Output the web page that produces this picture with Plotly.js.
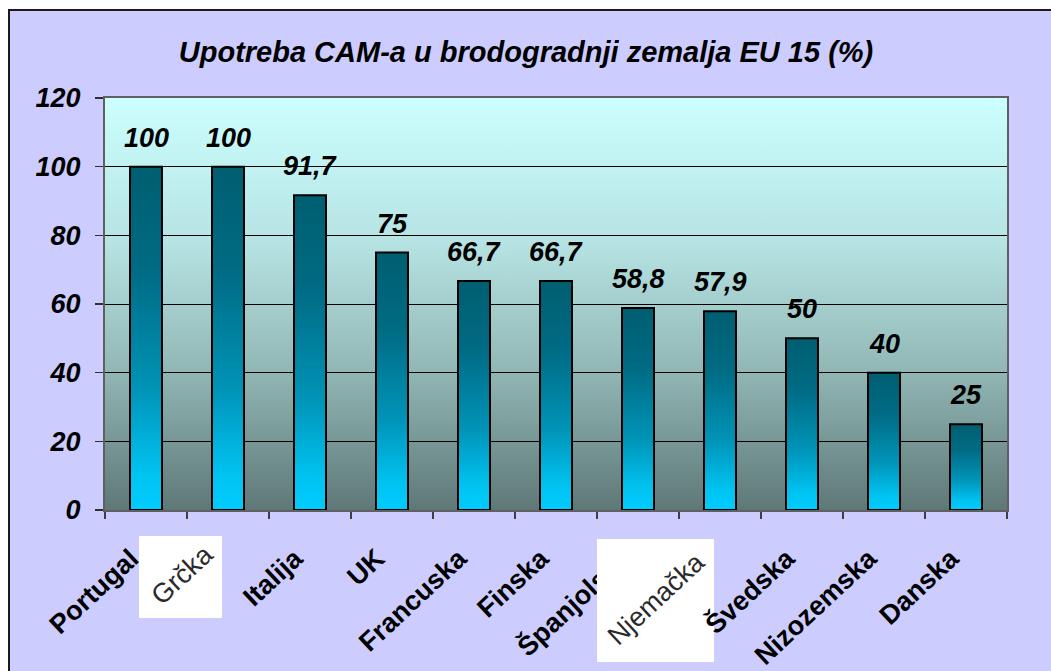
<!DOCTYPE html>
<html>
<head>
<meta charset="utf-8">
<script src="https://cdn.plot.ly/plotly-3.0.1.min.js"></script>
<style>
  html, body { margin:0; padding:0; background:#ffffff; overflow:hidden; }
  #frame { position:absolute; left:8px; top:9px; width:1041px; height:660px;
           border-left:2px solid #1a1a1a; border-top:2px solid #1a1a1a; }
  #chart { width:1041px; height:660px; }
</style>
</head>
<body>
<div id="frame"><div id="chart"></div></div>
<script>
const categories = ['Portugal','Grčka','Italija','UK','Francuska','Finska','Španjolska','Njemačka','Švedska','Nizozemska','Danska'];
const values = [100, 100, 91.7, 75, 66.7, 66.7, 58.8, 57.9, 50, 40, 25];
const boxedLabels = ['Grčka','Njemačka'];
const yTicks = [0, 20, 40, 60, 80, 100, 120];
const titleText = 'Upotreba CAM-a u brodogradnji zemalja EU 15 (%)';

const FONT = 'Liberation Sans, Arial, sans-serif';

// Bold tick labels for most categories; the two "boxed" ones are drawn as plain text on white patches
const tickText = categories.map(c => boxedLabels.includes(c) ? ' ' : '<b>' + c + '</b>');

const trace = {
  type: 'bar',
  x: categories,
  y: values,
  marker: { color: '#0088aa', line: { color: '#000000', width: 2 } },
  hoverinfo: 'x+y'
};

const valueLabels = categories.map((c, i) => ({
  x: c, y: values[i], xref: 'x', yref: 'y',
  text: '<b><i>' + String(values[i]).replace('.', ',') + '</i></b>',
  showarrow: false, yanchor: 'bottom', yshift: 12,
  font: { family: FONT, size: 27, color: '#000000' }
}));

const boxedPos = { 'Grčka': { xshift: -46, y: -0.158 }, 'Njemačka': { xshift: -64, y: -0.216 } };
const boxedAnnots = boxedLabels.map(c => ({
  x: c, xref: 'x', yref: 'paper', y: boxedPos[c].y, xshift: boxedPos[c].xshift,
  xanchor: 'center', yanchor: 'middle', textangle: -43,
  text: c, showarrow: false,
  font: { family: FONT, size: 27, color: '#2a2a2a' }
}));

const layout = {
  width: 1041, height: 660,
  margin: { l: 95, r: 44, t: 87, b: 161, pad: 0 },
  paper_bgcolor: '#CCCCFF',
  plot_bgcolor: '#A8D0D0',
  bargap: 0.61,
  showlegend: false,
  title: {
    text: '<b><i>' + titleText + '</i></b>',
    xref: 'container', x: 0.4957, xanchor: 'center',
    yref: 'container', y: 0.938, yanchor: 'middle',
    font: { family: FONT, size: 29, color: '#000000' }
  },
  xaxis: {
    type: 'category',
    tickmode: 'array', tickvals: categories, ticktext: tickText,
    tickangle: -43,
    ticklabelstandoff: 20, ticklabelshift: -15,
    tickson: 'boundaries', ticks: 'outside', ticklen: 7, tickwidth: 1.5, tickcolor: '#404040',
    showline: true, linecolor: '#606060', linewidth: 2, mirror: true,
    showgrid: false, zeroline: false,
    tickfont: { family: FONT, size: 27, color: '#000000' },
    automargin: false
  },
  yaxis: {
    range: [0, 120], tickmode: 'array', tickvals: yTicks,
    ticktext: yTicks.map(v => '<b><i>' + v + '</i></b>'),
    ticks: 'outside', ticklen: 8, tickwidth: 1.5, tickcolor: '#303030',
    showline: true, linecolor: '#606060', linewidth: 2, mirror: true,
    showgrid: true, gridcolor: '#000000', gridwidth: 1,
    zeroline: false,
    ticklabelstandoff: 9,
    tickfont: { family: FONT, size: 27, color: '#000000' },
    automargin: false
  },
  annotations: valueLabels.concat(boxedAnnots),
  shapes: [
    { type: 'rect', xref: 'paper', yref: 'paper', layer: 'above',
      x0: 0.0377, x1: 0.1297, y0: -0.2621, y1: -0.0631,
      fillcolor: '#ffffff', line: { width: 0 } },
    { type: 'rect', xref: 'paper', yref: 'paper', layer: 'below',
      x0: 0.5455, x1: 0.6752, y0: -0.3689, y1: -0.0704,
      fillcolor: '#ffffff', line: { width: 0 } },
    { type: 'rect', xref: 'paper', yref: 'paper', layer: 'above',
      x0: 0.5455, x1: 0.62, y0: -0.225, y1: -0.0704,
      fillcolor: '#ffffff', line: { width: 0 } }
  ]
};

const gd = document.getElementById('chart');
Plotly.newPlot(gd, [trace], layout, { displayModeBar: false, staticPlot: true }).then(() => {
  const ns = 'http://www.w3.org/2000/svg';
  const svg = gd.querySelector('svg.main-svg');
  let defs = svg.querySelector('defs');
  if (!defs) { defs = document.createElementNS(ns, 'defs'); svg.insertBefore(defs, svg.firstChild); }
  function grad(id, stops) {
    const g = document.createElementNS(ns, 'linearGradient');
    g.setAttribute('id', id);
    g.setAttribute('x1', '0'); g.setAttribute('y1', '0');
    g.setAttribute('x2', '0'); g.setAttribute('y2', '1');
    stops.forEach(([o, c]) => {
      const s = document.createElementNS(ns, 'stop');
      s.setAttribute('offset', o); s.setAttribute('stop-color', c);
      g.appendChild(s);
    });
    defs.appendChild(g);
  }
  grad('plotGrad', [[0, '#CCFFFF'], [0.35, '#B6E3E3'], [0.65, '#93B9B7'], [1, '#5E7877']]);
  grad('barGrad', [[0, '#005E70'], [0.3, '#006B84'], [0.65, '#0094B8'], [0.9, '#00C4F2'], [1, '#00CCFF']]);
  const bg = gd.querySelector('.bglayer .bg');
  if (bg) bg.style.fill = 'url(#plotGrad)';
  gd.querySelectorAll('.bars .point path').forEach(p => { p.style.fill = 'url(#barGrad)'; });
});
</script>
</body>
</html>
